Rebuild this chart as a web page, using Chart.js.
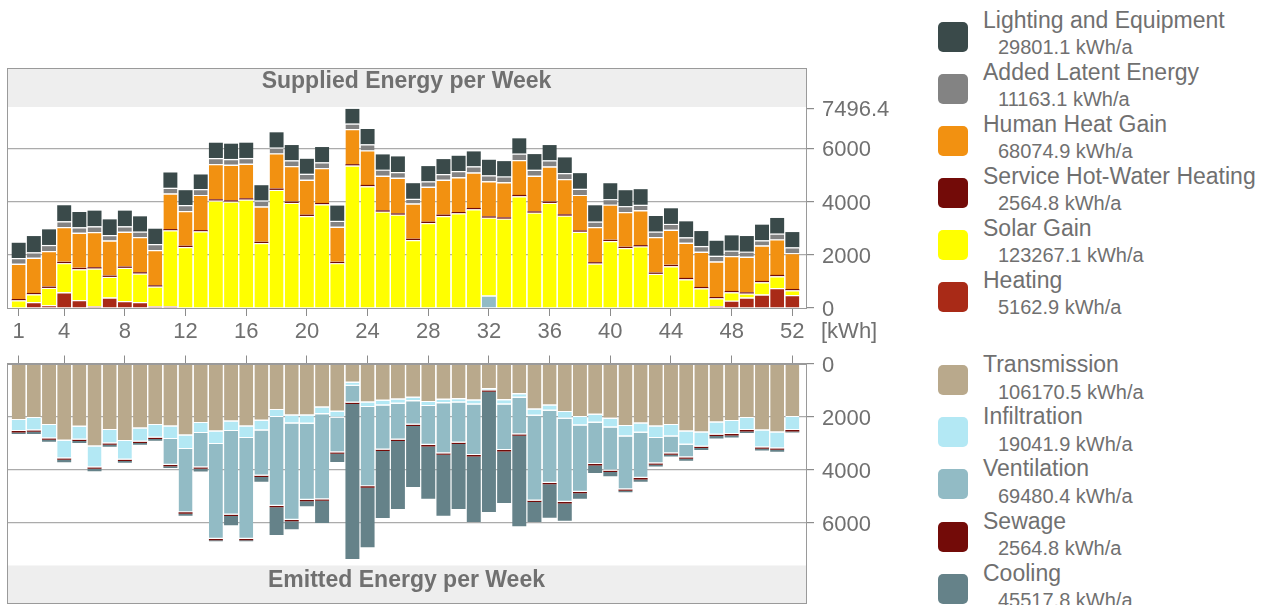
<!DOCTYPE html>
<html>
<head>
<meta charset="utf-8">
<script src="https://cdn.jsdelivr.net/npm/chart.js@4.4.1/dist/chart.umd.min.js"></script>
<style>
  body { margin: 0; background: #fff; width: 1265px; height: 605px; overflow: hidden; position: relative;
         font-family: 'Liberation Sans', Arial, sans-serif; }
  #supplied { position: absolute; left: 0; top: 0; }
  #emitted { position: absolute; left: 0; top: 350px; }
  .sw { position: absolute; left: 938px; width: 30px; height: 30px; border-radius: 5px; }
  .lab { position: absolute; left: 983px; font-size: 23px; line-height: 23px; color: #707070; white-space: nowrap; }
  .val { position: absolute; left: 998px; font-size: 20px; line-height: 20px; color: #707070; white-space: nowrap; }
</style>
</head>
<body>
<canvas id="supplied" width="920" height="350"></canvas>
<canvas id="emitted" width="920" height="255"></canvas>
<div id="legend"></div>
<script>
const weeks = [1,2,3,4,5,6,7,8,9,10,11,12,13,14,15,16,17,18,19,20,21,22,23,24,25,26,
               27,28,29,30,31,32,33,34,35,36,37,38,39,40,41,42,43,44,45,46,47,48,49,50,51,52];
const weekTicks = [1,4,8,12,16,20,24,28,32,36,40,44,48,52];
const suppliedTicks = [0,2000,4000,6000,7496.4];
const emittedTicks = [0,2000,4000,6000];

// supplied energy per week [kWh]
const lighting = [573,611,586,598,573,586,586,586,573,573, 573,560,548,573,573,573,573,573,573,560,
                  573,573,548,573,573,586,586,573,560,573, 560,586,573,573,586,573,586,586,611,598,
                  598,586,586,586,598,560,560,573,586,586,586,573];
const latent = [219,206,231,219,206,219,206,206,206,231, 219,219,219,231,219,219,231,219,219,231,
                219,219,206,231,231,219,181,206,219,231, 231,219,219,244,231,231,231,231,206,206,
                219,206,206,219,206,219,219,206,194,194,219,219];
const humanHeat = [1320,1320,1333,1308,1320,1320,1320,1308,1320,1320, 1333,1308,1320,1320,1333,1295,1320,1320,1333,1308,
                   1308,1320,1320,1295,1295,1333,1320,1308,1308,1308, 1333,1320,1320,1308,1333,1320,1320,1333,1320,1320,
                   1308,1308,1333,1320,1320,1320,1333,1308,1333,1333,1333,1345];
const hotWater = [49,50,49,49,50,49,48,49,50,49, 49,50,49,49,50,49,49,50,49,48,
                  49,50,49,49,50,49,49,50,49,49, 50,49,49,50,49,49,50,49,49,48,
                  49,50,49,49,50,49,49,50,49,49,50,49];
const solar = [289,289,654,1094,1156,1420,779,1244,1068,742, 2853,2288,2879,4035,3997,4073,2439,4437,3947,3457,
               3897,1684,5355,4575,3620,3507,2552,3193,3457,3557, 3708,2929,3356,4198,3582,3947,3469,2866,1672,2514,
               2250,2313,1282,1571,1081,742,289,314,151,465,440,176];
const heating = [0,226,101,591,302,63,390,264,226,63, 63,0,0,0,0,0,0,0,0,0,
                 0,0,0,0,0,0,0,0,0,0, 0,0,0,0,0,0,0,0,0,0,
                 0,0,0,0,0,0,75,277,390,503,754,490];
const ventilationGain = [0,0,0,0,0,0,0,0,0,0, 0,0,0,0,0,0,0,0,0,0,
                         0,0,0,0,0,0,0,0,0,0, 0,465,0,0,0,0,0,0,0,0,
                         0,0,0,0,0,0,0,0,0,0,0,0];

// emitted energy per week [kWh]
const transmission = [2130,2055,2318,2907,2381,3120,2506,2919,2443,2318, 2368,2706,2243,2556,2180,2368,2155,1754,1955,1955,
                      1654,1817,727,1466,1403,1353,1291,1453,1366,1341, 1391,965,1378,1153,1729,1579,1829,2017,1930,2080,
                      2356,2255,2368,2318,2556,2594,2218,2168,2055,2519,2594,2017];
const infiltration = [413,464,501,664,489,789,501,702,501,476, 476,514,376,476,363,439,363,263,301,313,
                      251,226,113,175,175,163,125,150,125,125, 150,50,163,138,238,200,251,313,301,326,
                      388,351,439,426,501,539,464,489,451,639,601,489];
const ventilation = [0,0,0,0,0,0,0,0,0,0, 977,2381,1291,3571,3145,3797,1704,3346,3634,2869,
                     3208,1303,639,2982,1666,1353,890,1466,1892,1516, 1905,0,1717,1378,3195,2719,3133,2506,1554,1629,
                     1992,1704,952,639,476,0,0,0,0,0,0,0];
const sewage = [49,50,49,49,50,49,48,49,50,49, 49,50,49,49,50,49,49,50,49,48,
                49,50,49,49,50,49,49,50,49,49, 50,49,49,50,49,49,50,49,49,48,
                49,50,49,49,50,49,49,50,49,49,50,49];
const cooling = [63,88,75,100,75,100,75,63,63,63, 63,75,100,38,351,38,176,1040,301,188,
                 840,313,5827,2243,2519,2556,2293,1967,2293,2443, 2469,4523,1942,3408,752,1253,652,201,288,163,
                 63,88,63,63,75,75,88,75,63,63,75,38];

const suppliedNames = ['Lighting and Equipment', 'Added Latent Energy', 'Human Heat Gain',
                       'Service Hot-Water Heating', 'Solar Gain', 'Heating'];
const suppliedTotals = ['29801.1', '11163.1', '68074.9', '2564.8', '123267.1', '5162.9'];
const suppliedColors = ['#3a4a4a', '#838383', '#f29111', '#730b08', '#ffff00', '#a92a17'];
const emittedNames = ['Transmission', 'Infiltration', 'Ventilation', 'Sewage', 'Cooling'];
const emittedTotals = ['106170.5', '19041.9', '69480.4', '2564.8', '45517.8'];
const emittedColors = ['#b9a98c', '#b3e8f4', '#92bbc5', '#730b08', '#658289'];

const ink = '#707070';
Chart.defaults.font.family = "'Liberation Sans', Arial, sans-serif";
Chart.defaults.color = ink;

function bars(label, data, color, sep) {
    return {
        label: label,
        data: data,
        backgroundColor: color,
        borderColor: '#ffffff',
        borderWidth: sep ? { top: 1.2, bottom: 1.2, left: 0, right: 0 } : 0,
        borderSkipped: 'start',
        barPercentage: 0.92,
        categoryPercentage: 1,
        stack: 's'
    };
}

function xAxis(pos, h, labels) {
    return {
        type: 'linear', position: pos, min: 0.23, max: 52.9, stacked: true, offset: false,
        grid: { offset: false, drawOnChartArea: false, tickLength: 8, tickColor: '#8c8c8c' },
        border: { color: '#9a9a9a' },
        ticks: { display: labels, autoSkip: false, maxRotation: 0, padding: 3, font: { size: 22 }, color: ink,
                 callback: v => String(v) },
        afterBuildTicks: s => { s.ticks = weekTicks.map(v => ({ value: v })); },
        afterFit: s => { s.height = h; s.paddingLeft = 0; s.paddingRight = 0; }
    };
}

function yAxis(max, reverse, tickValues) {
    return {
        type: 'linear', position: 'right', min: 0, max: max, reverse: reverse, stacked: true,
        grid: {
            color: c => (c.tick && c.tick.value > 0 && c.tick.value <= 6000) ? '#ababab' : 'rgba(0,0,0,0)',
            lineWidth: 1.2, tickLength: 8, tickColor: '#8c8c8c'
        },
        border: { color: '#9a9a9a' },
        ticks: { padding: 8, labelOffset: 2, font: { size: 22 }, color: ink, callback: v => String(v) },
        afterBuildTicks: s => { s.ticks = tickValues.map(v => ({ value: v })); },
        afterFit: s => { s.width = 114; s.paddingTop = 0; s.paddingBottom = 0; }
    };
}

function px(v) { return Math.round(v) + 0.5; }

const suppliedPanel = {
    id: 'suppliedPanel',
    beforeDraw(chart) {
        const { ctx, chartArea: a } = chart;
        ctx.save();
        ctx.fillStyle = '#eeeeee';
        ctx.fillRect(a.left, 68, a.right - a.left, a.top - 68);
        ctx.fillStyle = ink;
        ctx.textAlign = 'center';
        ctx.textBaseline = 'middle';
        ctx.font = "bold 23px 'Liberation Sans', Arial, sans-serif";
        ctx.fillText('Supplied Energy per Week', (a.left + a.right) / 2, 82);
        ctx.textAlign = 'left';
        ctx.font = "22px 'Liberation Sans', Arial, sans-serif";
        ctx.fillText('[kWh]', 821, 332);
        ctx.restore();
    },
    afterDraw(chart) {
        const { ctx, chartArea: a } = chart;
        ctx.save();
        ctx.strokeStyle = '#9a9a9a';
        ctx.lineWidth = 1;
        ctx.strokeRect(px(a.left), 68.5, Math.round(a.right) - Math.round(a.left), Math.round(a.bottom) - 68);
        ctx.restore();
    }
};

const emittedPanel = {
    id: 'emittedPanel',
    beforeDraw(chart) {
        const { ctx, chartArea: a } = chart;
        ctx.save();
        ctx.fillStyle = '#eeeeee';
        ctx.fillRect(a.left, a.bottom, a.right - a.left, 253 - a.bottom);
        ctx.fillStyle = ink;
        ctx.textAlign = 'center';
        ctx.textBaseline = 'middle';
        ctx.font = "bold 23px 'Liberation Sans', Arial, sans-serif";
        ctx.fillText('Emitted Energy per Week', (a.left + a.right) / 2, 231);
        ctx.restore();
    },
    afterDraw(chart) {
        const { ctx, chartArea: a } = chart;
        ctx.save();
        ctx.strokeStyle = '#9a9a9a';
        ctx.lineWidth = 1;
        ctx.strokeRect(px(a.left), px(a.top), Math.round(a.right) - Math.round(a.left), 253 - Math.round(a.top));
        ctx.restore();
    }
};

new Chart(document.getElementById('supplied'), {
    type: 'bar',
    data: {
        labels: weeks,
        datasets: [
            bars('Ventilation', ventilationGain, emittedColors[2], true),
            bars('Heating', heating, suppliedColors[5], true),
            bars('Solar Gain', solar, suppliedColors[4], true),
            bars('Service Hot-Water Heating', hotWater, suppliedColors[3], false),
            bars('Human Heat Gain', humanHeat, suppliedColors[2], true),
            bars('Added Latent Energy', latent, suppliedColors[1], true),
            bars('Lighting and Equipment', lighting, suppliedColors[0], false)
        ]
    },
    options: {
        responsive: false,
        animation: false,
        layout: { padding: { left: 7, top: 107, right: 0, bottom: 0 } },
        plugins: { legend: { display: false }, tooltip: { enabled: false } },
        scales: {
            x: xAxis('bottom', 42, true),
            y: yAxis(7550, false, suppliedTicks)
        }
    },
    plugins: [suppliedPanel]
});

new Chart(document.getElementById('emitted'), {
    type: 'bar',
    data: {
        labels: weeks,
        datasets: [
            bars('Transmission', transmission, emittedColors[0], true),
            bars('Infiltration', infiltration, emittedColors[1], true),
            bars('Ventilation', ventilation, emittedColors[2], true),
            bars('Sewage', sewage, emittedColors[3], false),
            bars('Cooling', cooling, emittedColors[4], false)
        ]
    },
    options: {
        responsive: false,
        animation: false,
        layout: { padding: { left: 7, top: 0, right: 0, bottom: 39.5 } },
        plugins: { legend: { display: false }, tooltip: { enabled: false } },
        scales: {
            x: xAxis('top', 13.5, false),
            y: yAxis(7600, true, emittedTicks)
        }
    },
    plugins: [emittedPanel]
});

const legend = document.getElementById('legend');
function addEntry(name, total, color, top, labOffset, valOffset) {
    const sw = document.createElement('div');
    sw.className = 'sw';
    sw.style.top = top + 'px';
    sw.style.background = color;
    const lab = document.createElement('div');
    lab.className = 'lab';
    lab.style.top = (top + labOffset) + 'px';
    lab.textContent = name;
    const val = document.createElement('div');
    val.className = 'val';
    val.style.top = (top + valOffset) + 'px';
    val.textContent = total + ' kWh/a';
    legend.append(sw, lab, val);
}
suppliedNames.forEach((n, i) => addEntry(n, suppliedTotals[i], suppliedColors[i], 22 + 52 * i, -13, 14.5));
emittedNames.forEach((n, i) => addEntry(n, emittedTotals[i], emittedColors[i], 365 + 52.2 * i, -12, 16.5));
</script>
</body>
</html>
